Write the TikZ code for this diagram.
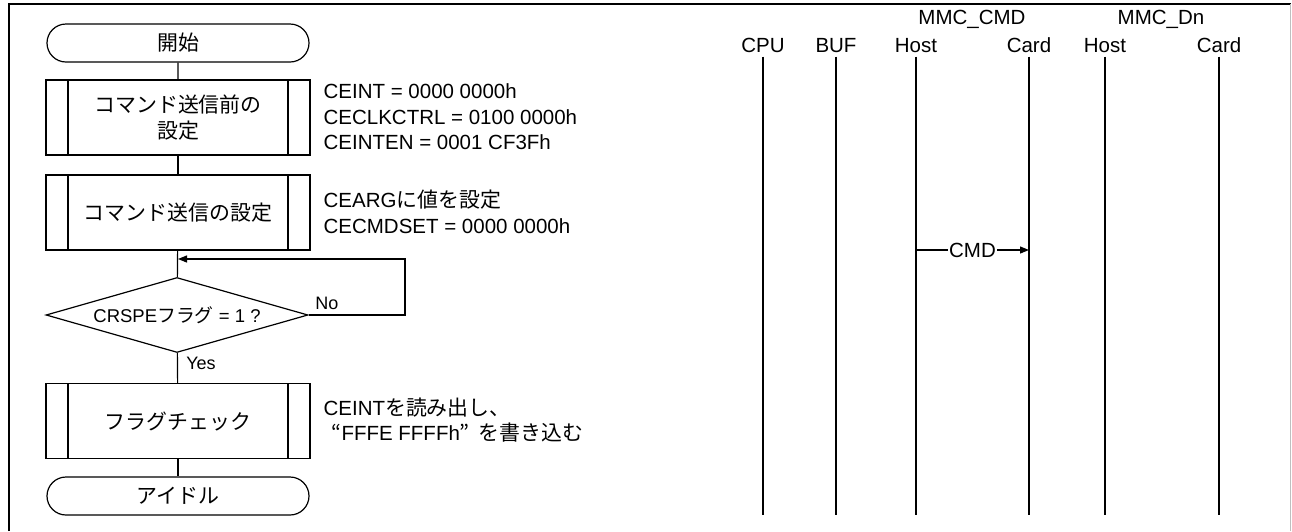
\documentclass[tikz,border=0pt]{standalone}
\usepackage{fontspec}
\setmainfont{Liberation Sans}
\newfontfamily\jp[Scale=1.02]{Noto Sans CJK JP}
\usetikzlibrary{shapes.geometric,shapes.misc,arrows.meta}

\begin{document}
\begin{tikzpicture}[x=1pt, y=-1pt, line width=1.2pt,
	every node/.style={inner sep=1pt, font=\fontsize{20.5}{26}\selectfont},
	term/.style={draw, rounded rectangle, minimum width=264pt, minimum height=38pt, font=\fontsize{20.5}{26}\selectfont\jp},
	subproc/.style={draw, rectangle, minimum width=264pt, minimum height=75pt, align=center,
		font=\fontsize{20.5}{26}\selectfont\jp,
		path picture={
			\draw ([xshift=22pt]path picture bounding box.north west) -- ([xshift=22pt]path picture bounding box.south west);
			\draw ([xshift=-22pt]path picture bounding box.north east) -- ([xshift=-22pt]path picture bounding box.south east);}},
	decide/.style={draw, diamond, minimum width=262pt, minimum height=75pt, aspect=3.5, inner sep=0pt,
		font=\fontsize{18.5}{22}\selectfont},
	note/.style={anchor=west, align=left, font=\fontsize{20.5}{25.5}\selectfont},
	small/.style={font=\fontsize{18}{22}\selectfont},
	head/.style={inner sep=3pt, text height=15pt, text depth=1pt},
	arr/.style={-{Triangle[length=9pt,width=7pt]}}]
	\useasboundingbox (0,0) rectangle (1292,531);
	
	% frame
	\draw[line width=2pt] (8.5,531) -- (8.5,3.5) -- (1290.5,3.5);
	\draw[gray!50, line width=0.8pt] (1290.5,3.5) -- (1290.5,531);
	
	% flow
	\node[term] (start) at (178,43) {開始};
	\node[subproc] (preset) at (178,117.5) {コマンド送信前の\\設定};
	\node[subproc] (cmdset) at (178,212.5) {コマンド送信の設定};
	\node[decide] (check) at (177,315) {CRSPE{\jp フラグ} = 1 ?};
	\node[subproc] (flag) at (178,421) {フラグチェック};
	\node[term] (idle) at (178,496) {アイドル};
	
	\coordinate (join) at (178,259);
	\coordinate (back) at (405,259);
	
	\draw (start) -- (preset);
	\draw (preset) -- (cmdset);
	\draw (cmdset) -- (check);
	\draw (check) -- (flag);
	\draw (flag) -- (idle);
	\draw[arr] (check.east) -| (back) -- (join);
	
	\node[small] (no) at (327,303) {No};
	\node[small] (yes) at (201,363) {Yes};
	
	% notes
	\node[note] (n1) at (322,117) {CEINT = 0000 0000h\\CECLKCTRL = 0100 0000h\\CEINTEN = 0001 CF3Fh};
	\node[note] (n2) at (322,212) {CEARG{\jp に値を設定}\\CECMDSET = 0000 0000h};
	\node[note] (n3) at (322,420) {CEINT{\jp を読み出し、}\\\hspace*{8pt}{\jp “}FFFE FFFFh{\jp ”}\hspace{9pt}{\jp を書き込む}};
	
	% lifelines
	\node[head] (mmccmd) at (972,17) {MMC\_CMD};
	\node[head] (mmcdn) at (1161,17) {MMC\_Dn};
	\foreach \n/\x/\t in {cpu/763/CPU, buf/836/BUF, cmdh/916/Host, cmdc/1029/Card, dnh/1105/Host, dnc/1219/Card} {
		\node[head] (\n) at (\x,45) {\t};
		\coordinate (\n end) at (\x,515);
		\draw (\n) -- (\n end);
	}
	
	\coordinate (cmdfrom) at (916,250);
	\coordinate (cmdto) at (1029,250);
	\draw[arr] (cmdfrom) -- (cmdto) node[midway, fill=white] (cmd) {CMD};
\end{tikzpicture}
\end{document}
